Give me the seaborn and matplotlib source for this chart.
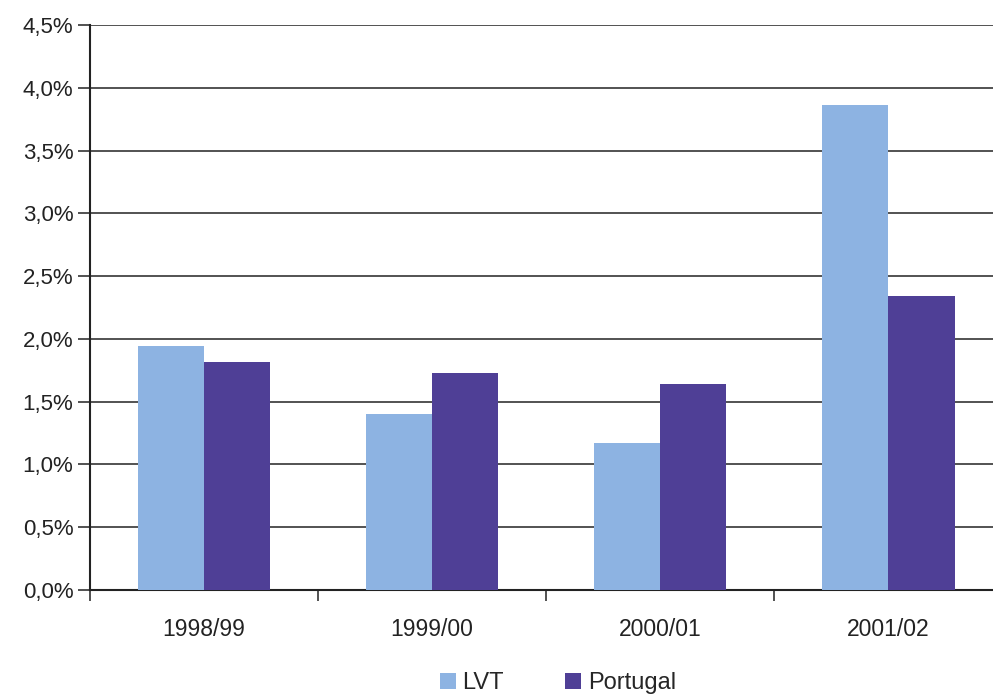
import numpy as np
import pandas as pd
import matplotlib.pyplot as plt
import seaborn as sns
from matplotlib.ticker import FuncFormatter

years = ['1998/99', '1999/00', '2000/01', '2001/02']
lvt = [1.94, 1.40, 1.17, 3.86]
portugal = [1.82, 1.73, 1.64, 2.34]

df = pd.DataFrame({
    'ano': years * 2,
    'valor': lvt + portugal,
    'regiao': ['LVT'] * 4 + ['Portugal'] * 4,
})

sns.set_style('white')
plt.rcParams['font.family'] = ['Liberation Sans', 'DejaVu Sans']

fig = plt.figure(figsize=(9.93, 6.99), dpi=100)
ax = fig.add_axes([0.0906, 0.156, 0.919, 0.808])

sns.barplot(data=df, x='ano', y='valor', hue='regiao',
            palette={'LVT': '#8db3e2', 'Portugal': '#4f3f96'},
            width=0.58, gap=0, saturation=1, linewidth=0, ax=ax, zorder=3)

ax.set_ylim(0, 4.5)
ax.set_xlim(-0.5, 3.5)
ax.set_yticks(np.arange(0, 4.51, 0.5))
ax.yaxis.set_major_formatter(FuncFormatter(lambda v, p: f'{v:.1f}%'.replace('.', ',')))
ax.yaxis.grid(True, color='#444444', linewidth=1.3, zorder=0)
ax.set_axisbelow(True)

ax.set_xticks([-0.5, 0.5, 1.5, 2.5, 3.5], minor=True)
ax.tick_params(bottom=True, left=True)
ax.tick_params(axis='x', which='major', length=0, labelsize=16.5, pad=20, colors='#222222')
ax.tick_params(axis='x', which='minor', bottom=True, length=8, width=1.2, color='#333333', direction='out')
ax.tick_params(axis='y', length=9, width=1.2, color='#333333', direction='out', labelsize=16, labelcolor='#222222', pad=3)

for s in ['top', 'right']:
    ax.spines[s].set_visible(False)
ax.spines['left'].set_color('#222222')
ax.spines['left'].set_linewidth(1.5)
ax.spines['bottom'].set_color('#222222')
ax.spines['bottom'].set_linewidth(1.5)

ax.set_xlabel('')
ax.set_ylabel('')

ax.legend(loc='center', bbox_to_anchor=(0.513, -0.165), ncol=2, frameon=False,
          fontsize=17, handlelength=0.65, handleheight=0.65, columnspacing=2.6,
          handletextpad=0.3)

fig.savefig('out.png', dpi=100)
